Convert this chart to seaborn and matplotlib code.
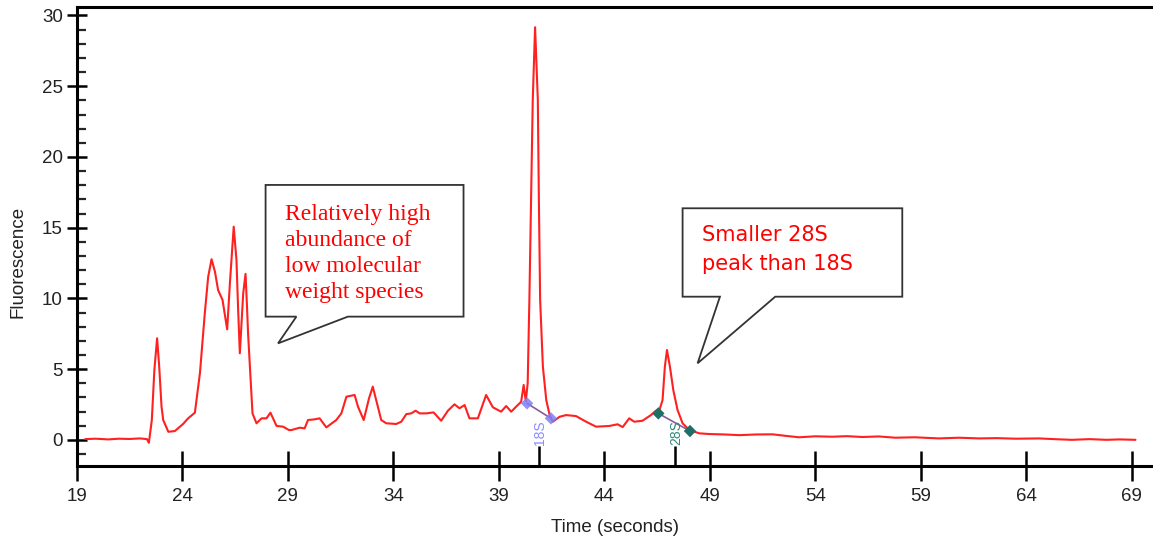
import numpy as np
import pandas as pd
import seaborn as sns
import matplotlib.pyplot as plt
from matplotlib.patches import Polygon
from matplotlib.ticker import MultipleLocator

# trace (time in s, fluorescence)
time_s = [19.4, 19.9, 20.5, 21.0, 21.5, 22.0, 22.33, 22.42, 22.56, 22.68, 22.81,
          22.91, 23.02, 23.1, 23.34, 23.65, 23.89, 24.04, 24.28, 24.6, 24.84, 25.07,
          25.23, 25.39, 25.55, 25.7, 25.91, 26.13, 26.26, 26.44, 26.57, 26.65, 26.73,
          26.89, 27.0, 27.07, 27.12, 27.33, 27.52, 27.76, 27.99, 28.18, 28.47, 28.78,
          29.06, 29.17, 29.57, 29.8, 29.96, 30.28, 30.51, 30.83, 31.3, 31.54, 31.78,
          32.17, 32.33, 32.6, 32.85, 33.03, 33.19, 33.43, 33.67, 34.14, 34.38, 34.62,
          34.85, 35.06, 35.25, 35.56, 35.91, 36.27, 36.59, 36.9, 37.14, 37.38, 37.61,
          38.01, 38.4, 38.72, 39.11, 39.35, 39.59, 39.82, 40.06, 40.18, 40.28, 40.37,
          40.45, 40.53, 40.61, 40.72, 40.85, 40.9, 40.96, 41.09, 41.25, 41.41, 41.56,
          41.88, 42.19, 42.66, 43.14, 43.61, 44.24, 44.63, 44.87, 45.18, 45.42, 45.81,
          46.21, 46.45, 46.6, 46.76, 46.87, 46.97, 47.11, 47.27, 47.47, 47.71, 48.03,
          48.5, 48.97, 49.7, 50.4, 51.2, 51.97, 52.6, 53.23, 54.0, 54.8, 55.5, 56.23,
          57.0, 57.8, 58.7, 59.86, 60.8, 61.76, 62.6, 63.5, 64.6, 65.3, 66.16, 67.0,
          67.8, 68.4, 69.17]
fluor = [0.05, 0.08, 0.03, 0.08, 0.06, 0.1, 0.05, -0.21, 1.4, 4.94, 7.18,
         5.17, 2.34, 1.4, 0.57, 0.62, 0.93, 1.12, 1.52, 1.92, 4.72, 8.95,
         11.53, 12.77, 11.89, 10.59, 9.89, 7.81, 11.09, 15.07, 12.72, 9.18, 6.12,
         10.36, 11.73, 9.41, 7.53, 1.87, 1.17, 1.52, 1.52, 1.92, 0.98, 0.93,
         0.69, 0.69, 0.86, 0.81, 1.4, 1.45, 1.52, 0.88, 1.4, 1.87, 3.05,
         3.17, 2.34, 1.4, 2.93, 3.76, 2.81, 1.4, 1.17, 1.12, 1.28, 1.82,
         1.87, 2.06, 1.87, 1.87, 1.94, 1.35, 2.06, 2.51, 2.23, 2.46, 1.52,
         1.52, 3.17, 2.3, 1.99, 2.39, 1.99, 2.34, 2.69, 3.88, 2.74, 4.0,
         9.89, 16.96, 24.04, 29.17, 24.04, 16.96, 9.89, 5.17, 2.81, 1.75, 1.28,
         1.63, 1.75, 1.68, 1.28, 0.93, 0.98, 1.1, 0.9, 1.52, 1.28, 1.35,
         1.75, 2.06, 2.05, 2.81, 5.17, 6.35, 5.17, 3.52, 2.11, 1.17, 0.69,
         0.46, 0.41, 0.38, 0.33, 0.38, 0.39, 0.28, 0.18, 0.25, 0.22, 0.26, 0.2,
         0.24, 0.15, 0.18, 0.1, 0.15, 0.1, 0.12, 0.08, 0.1, 0.05, 0.0, 0.05,
         0.0, 0.03, 0.0]

# peak boundaries and peak times
s18_time = [40.34, 41.47]
s18_fluor = [2.58, 1.52]
s28_time = [46.56, 48.06]
s28_fluor = [1.87, 0.62]
peak_times = [40.89, 47.37]
peak_names = ['18S', '28S']
peak_colors = ['#8c8cff', '#2e8b80']

x_ticks = [19, 24, 29, 34, 39, 44, 49, 54, 59, 64, 69]
y_ticks = [0, 5, 10, 15, 20, 25, 30]

df = pd.DataFrame({'Time': time_s, 'Fluorescence': fluor})

sns.set_style('white')
plt.rcParams['font.family'] = ['Liberation Sans', 'DejaVu Sans']

W, H = 1153, 542
fig = plt.figure(figsize=(W / 100, H / 100), dpi=100)
ax = fig.add_axes([76.7 / W, 1 - 466 / H, 1 - 76.7 / W, (466 - 7) / H])

sns.lineplot(data=df, x='Time', y='Fluorescence', ax=ax, color='#ff2020',
             lw=1.5, sort=False, estimator=None)

# peak boundary markers
ax.plot(s18_time, s18_fluor, color='#8a5a9a', lw=1.2, zorder=3)
ax.plot(s28_time, s28_fluor, color='#8a5a9a', lw=1.2, zorder=3)
ax.scatter(s18_time, s18_fluor, marker='D', s=40, color='#7f7ff5', alpha=0.85,
           edgecolor='none', zorder=4)
ax.scatter(s28_time, s28_fluor, marker='D', s=40, color='#1f6f66',
           edgecolor='none', zorder=4)

ax.set_xlim(19, 70)
ax.set_ylim(-1.85, 30.6)

for t, name, c in zip(peak_times, peak_names, peak_colors):
    ax.vlines(t, -1.85, -0.45, color='black', lw=1.8, clip_on=False, zorder=5)
    ax.text(t + 0.05, -0.4, name, rotation=90, ha='center', va='bottom',
            color=c, fontsize=10)

# callouts
box1 = [(27.95, 18.02), (37.33, 18.02), (37.33, 8.71), (31.85, 8.71),
        (28.54, 6.82), (29.41, 8.71), (27.95, 8.71)]
box2 = [(47.71, 16.37), (58.12, 16.37), (58.12, 10.12), (52.10, 10.12),
        (48.42, 5.41), (49.48, 10.12), (47.71, 10.12)]
for b in (box1, box2):
    ax.add_patch(Polygon(b, closed=True, facecolor='white', edgecolor='#333333',
                         lw=1.3, zorder=6))
ax.text(28.86, 13.18, 'Relatively high\nabundance of\nlow molecular\nweight species',
        family='Liberation Serif', fontsize=17, color='#ff0000', ha='left',
        va='center', linespacing=1.3, zorder=7)
ax.text(48.65, 13.48, 'Smaller 28S\npeak than 18S', family='DejaVu Sans',
        fontsize=15, color='#ff0000', ha='left', va='center', linespacing=1.55,
        zorder=7)

ax.set_xticks(x_ticks)
ax.set_yticks(y_ticks)
ax.yaxis.set_minor_locator(MultipleLocator(1))
ax.tick_params(axis='x', which='major', direction='inout', length=22, width=1.8,
               labelsize=13.5, pad=5, color='black', labelcolor='#222222',
               bottom=True)
ax.tick_params(axis='y', which='major', direction='inout', length=14, width=1.8,
               labelsize=13.5, pad=3, color='black', labelcolor='#222222',
               left=True)
ax.tick_params(axis='y', which='minor', direction='in', length=6.5, width=1.6,
               left=True)

for side in ('left', 'bottom', 'top'):
    ax.spines[side].set_linewidth(2.2)
    ax.spines[side].set_color('black')
ax.spines['right'].set_visible(False)

ax.set_xlabel('Time (seconds)', fontsize=13.5, color='#222222')
ax.set_ylabel('Fluorescence', fontsize=13.5, color='#222222')
ax.xaxis.set_label_coords(0.5, -0.115)
ax.yaxis.set_label_coords(-0.047, 0.444)

fig.savefig('out.png', dpi=100)
